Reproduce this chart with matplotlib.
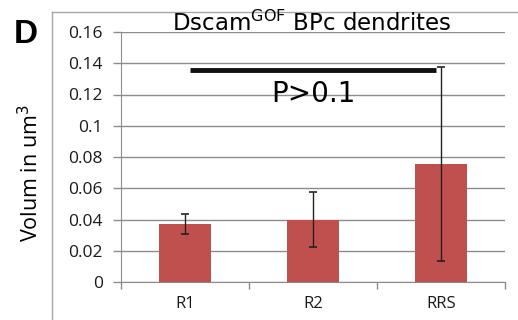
import matplotlib.pyplot as plt
from matplotlib.lines import Line2D

categories = ["R1", "R2", "RRS"]
volumes = [0.037, 0.040, 0.0755]
errors = [0.0065, 0.0176, 0.0622]
yticks = [0, 0.02, 0.04, 0.06, 0.08, 0.1, 0.12, 0.14, 0.16]
ytick_labels = ["0", "0.02", "0.04", "0.06", "0.08", "0.1", "0.12", "0.14", "0.16"]
sig_y = 0.1357
sig_label = "P>0.1"

BAR = "#C0504D"
GRID = "#8C8C8C"

fig = plt.figure(figsize=(5.18, 3.2), dpi=100)
ax = fig.add_axes([121 / 518, 1 - 282 / 320, 384 / 518, 250 / 320])

x = list(range(len(categories)))
ax.bar(x, volumes, width=0.4, color=BAR, zorder=2)
ax.errorbar(x, volumes, yerr=errors, fmt="none", ecolor="#222222",
            elinewidth=1.0, capsize=3, capthick=1.2, zorder=3)

ax.set_xlim(-0.5, 2.5)
ax.set_ylim(0, 0.16)
ax.set_xticks([-0.5, 0.5, 1.5, 2.5], minor=True)
ax.tick_params(axis="x", which="major", length=0, pad=10, labelsize=12)
ax.tick_params(axis="x", which="minor", length=5, color=GRID, width=1)
ax.tick_params(axis="y", length=6, color=GRID, width=1, pad=7, labelsize=12.5)
ax.set_yticks(yticks)
ax.set_yticklabels(ytick_labels, fontfamily="Open Sans", fontsize=12.5, color="#1a1a1a")
ax.set_xticks(x)
ax.set_xticklabels(categories, fontfamily="Open Sans", fontsize=12, color="#1a1a1a")
ax.yaxis.grid(True, color=GRID, linewidth=1, zorder=0)
ax.set_axisbelow(True)
for s in ["top", "right"]:
    ax.spines[s].set_visible(False)
ax.spines["left"].set_color(GRID)
ax.spines["bottom"].set_color(GRID)

# significance bar
ax.plot([0.04, 1.96], [sig_y, sig_y], color="#111111", linewidth=3.5, zorder=4,
        solid_capstyle="butt")
ax.text(1.0, 0.1152, sig_label, ha="center", va="baseline", fontsize=20,
        fontfamily="DejaVu Sans", zorder=5)

ax.set_ylabel("Volum in um$^3$", fontsize=15.5, fontfamily="Open Sans")
ax.yaxis.set_label_coords(-0.202, 0.434)

fig.text(312 / 518, 1 - 31 / 320, "Dscam$^{\\mathrm{GOF}}$ BPc dendrites",
         ha="center", va="baseline", fontsize=16.5, fontfamily="DejaVu Sans")
fig.text(26 / 518, 1 - 43 / 320, "D", ha="center", va="baseline", fontsize=24,
         fontweight="bold", fontfamily="Liberation Sans")

# outer chart frame
fig.add_artist(Line2D([52 / 518, 52 / 518], [0, 1 - 12 / 320], transform=fig.transFigure,
                      color="#A6A6A6", linewidth=1))
fig.add_artist(Line2D([52 / 518, 1], [1 - 12 / 320, 1 - 12 / 320], transform=fig.transFigure,
                      color="#A6A6A6", linewidth=1))

fig.savefig("out.png", dpi=100)
